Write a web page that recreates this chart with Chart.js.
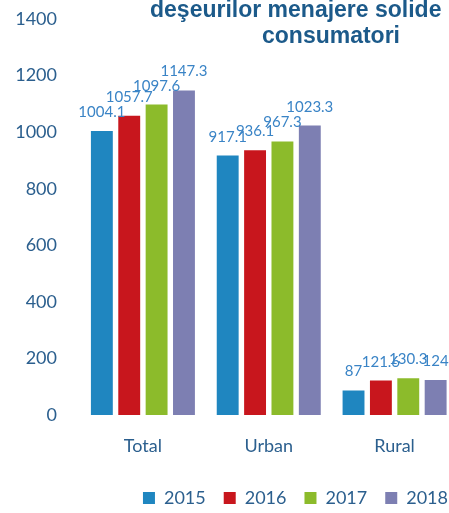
<!DOCTYPE html>
<html lang="ro">
<head>
    <meta charset="UTF-8">
    <title>Deşeuri menajere solide</title>
    <script src="https://cdn.jsdelivr.net/npm/chart.js"></script>
    <style>
        html, body { margin: 0; padding: 0; background: #fff; }
        #wrap { width: 449px; height: 513px; overflow: hidden; position: relative; }
        canvas { display: block; }
    </style>
</head>
<body>
    <div id="wrap">
        <canvas id="chart" width="466" height="523"></canvas>
    </div>

    <script>
        // data
        const categories = ['Total', 'Urban', 'Rural'];
        const years = ['2015', '2016', '2017', '2018'];
        const v2015 = [1004.1, 917.1, 87];
        const v2016 = [1057.7, 936.1, 121.6];
        const v2017 = [1097.6, 967.3, 130.3];
        const v2018 = [1147.3, 1023.3, 124];
        const yMax = 1400;
        const yStep = 200;
        const titleLines = ['deşeurilor menajere solide', 'consumatori'];

        const colors = ['#1f86c0', '#c8161d', '#8cbb2b', '#7d7fb2'];
        const tickColor = '#2b5f8e';
        const labelColor = '#3a84c6';

        // value labels above each bar
        const barLabels = {
            id: 'barLabels',
            afterDatasetsDraw(chart) {
                const ctx = chart.ctx;
                ctx.save();
                ctx.font = '15px Lato';
                ctx.fillStyle = labelColor;
                ctx.textAlign = 'center';
                ctx.textBaseline = 'alphabetic';
                chart.data.datasets.forEach((ds, i) => {
                    chart.getDatasetMeta(i).data.forEach((bar, j) => {
                        ctx.fillText(String(ds.data[j]), bar.x, bar.y - 14);
                    });
                });
                ctx.restore();
            }
        };

        // title, partly cut off like the picture
        const cutTitle = {
            id: 'cutTitle',
            afterDraw(chart) {
                const ctx = chart.ctx;
                ctx.save();
                ctx.font = 'bold 23px "Liberation Sans"';
                ctx.fillStyle = '#1c5a8a';
                ctx.textBaseline = 'alphabetic';
                ctx.textAlign = 'left';
                ctx.fillText(titleLines[0], 150, 17);
                ctx.textAlign = 'center';
                ctx.fillText(titleLines[1], 331, 43);
                ctx.restore();
            }
        };

        const series = [v2015, v2016, v2017, v2018];

        new Chart(document.getElementById('chart'), {
            type: 'bar',
            data: {
                labels: categories,
                datasets: years.map((y, i) => ({
                    label: y,
                    data: series[i],
                    backgroundColor: colors[i],
                    categoryPercentage: 0.87,
                    barPercentage: 0.8
                }))
            },
            options: {
                responsive: false,
                animation: false,
                layout: { padding: { top: 19, left: 0, right: 0, bottom: 6 } },
                plugins: {
                    title: { display: false },
                    tooltip: { enabled: false },
                    legend: {
                        position: 'bottom',
                        align: 'end',
                        labels: {
                            boxWidth: 12,
                            boxHeight: 12,
                            padding: 18,
                            color: tickColor,
                            font: { family: 'Lato', size: 18 }
                        }
                    }
                },
                scales: {
                    x: {
                        grid: { display: false, drawTicks: false },
                        border: { display: false },
                        ticks: { color: tickColor, padding: 20, font: { family: 'Lato', size: 18 } },
                        afterFit(s) { s.height = 56; }
                    },
                    y: {
                        min: 0,
                        max: yMax,
                        // invisible tick length keeps the labels off the bars
                        grid: { display: false, drawTicks: true, tickLength: 23 },
                        border: { display: false },
                        ticks: {
                            stepSize: yStep,
                            color: tickColor,
                            padding: 0,
                            font: { family: 'Lato', size: 18 },
                            callback: v => String(v)
                        },
                        afterFit(s) { s.width = 80; }
                    },
                    yR: {
                        position: 'right',
                        display: true,
                        grid: { display: false, drawTicks: false },
                        border: { display: false },
                        ticks: { display: false },
                        afterFit(s) { s.width = 8.5; }
                    }
                }
            },
            plugins: [barLabels, cutTitle]
        });
    </script>
</body>
</html>
